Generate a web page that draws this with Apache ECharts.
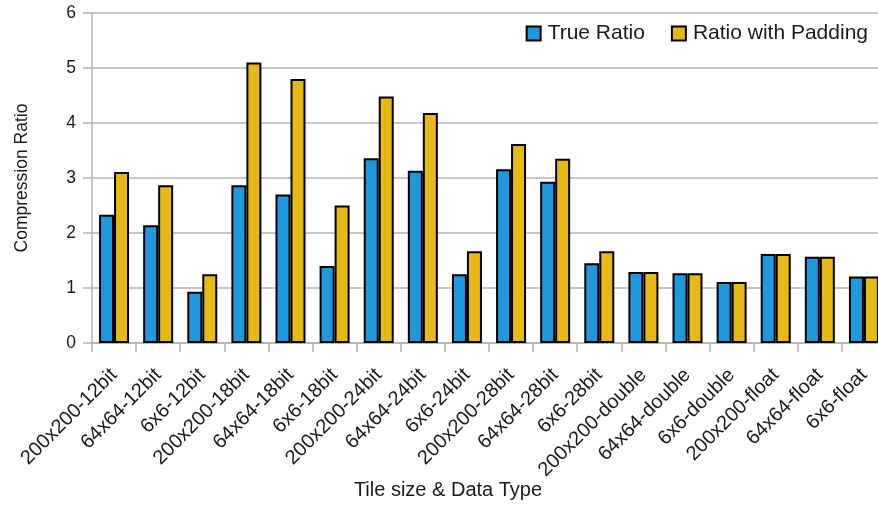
<!DOCTYPE html>
<html><head><meta charset="utf-8">
<script src="https://cdn.jsdelivr.net/npm/echarts@6/dist/echarts.min.js"></script>
<style>html,body{margin:0;padding:0;background:#fff}#c{width:878px;height:505px}</style>
</head><body><div id="c"></div>
<script>
const categories = ["200x200-12bit","64x64-12bit","6x6-12bit","200x200-18bit","64x64-18bit","6x6-18bit","200x200-24bit","64x64-24bit","6x6-24bit","200x200-28bit","64x64-28bit","6x6-28bit","200x200-double","64x64-double","6x6-double","200x200-float","64x64-float","6x6-float"];
const trueRatio = [2.33,2.14,0.93,2.87,2.70,1.40,3.36,3.13,1.25,3.16,2.93,1.45,1.29,1.27,1.11,1.62,1.57,1.21];
const paddingRatio = [3.11,2.87,1.25,5.10,4.80,2.50,4.48,4.18,1.67,3.62,3.35,1.67,1.29,1.27,1.11,1.62,1.57,1.21];
const seriesNames = ["True Ratio","Ratio with Padding"];

const chart = echarts.init(document.getElementById('c'), null, {renderer:'canvas'});
const font = 'Liberation Sans';
chart.setOption({
  animation:false,
  textStyle:{fontFamily:font},
  grid:{left:92,right:-8,top:13,bottom:162,containLabel:false,outerBoundsMode:'none'},
  legend:{
    right:5, top:18, itemWidth:14, itemHeight:14, itemGap:26,
    icon:'rect',
    itemStyle:{borderColor:'#000',borderWidth:2},
    textStyle:{fontFamily:font,fontSize:21,color:'#1a1a1a',padding:[0,0,0,2]},
    data:seriesNames
  },
  xAxis:{
    type:'category', data:categories,
    name:'Tile size & Data Type', nameLocation:'middle', nameGap:137, nameMoveOverlap:false,
    nameTextStyle:{fontFamily:font,fontSize:20,color:'#1a1a1a',padding:[0,82,0,0]},
    axisLine:{lineStyle:{color:'#b3b3b3',width:1.5}},
    axisTick:{show:true,length:9,lineStyle:{color:'#b3b3b3',width:1.5}},
    axisLabel:{rotate:45,interval:0,fontFamily:font,fontSize:20,color:'#1a1a1a',margin:29}
  },
  yAxis:{
    type:'value', min:0, max:6, interval:1,
    name:'Compression Ratio', nameLocation:'middle', nameGap:61, nameMoveOverlap:false,
    nameTextStyle:{fontFamily:font,fontSize:17.5,color:'#1a1a1a'},
    axisLine:{show:true,lineStyle:{color:'#b3b3b3',width:1.5}},
    axisTick:{show:true,length:9,lineStyle:{color:'#b3b3b3',width:1.5}},
    axisLabel:{fontFamily:font,fontSize:17.5,color:'#1a1a1a',margin:16},
    splitLine:{lineStyle:{color:'#b3b3b3',width:1.5}}
  },
  series:[
    {name:seriesNames[0],type:'bar',data:trueRatio,barGap:'0%',barCategoryGap:'32%',
     itemStyle:{color:'#1f98de',borderColor:'#000',borderWidth:2}},
    {name:seriesNames[1],type:'bar',data:paddingRatio,barGap:'0%',barCategoryGap:'32%',
     itemStyle:{color:'#e6b916',borderColor:'#000',borderWidth:2}}
  ]
});
</script></body></html>
